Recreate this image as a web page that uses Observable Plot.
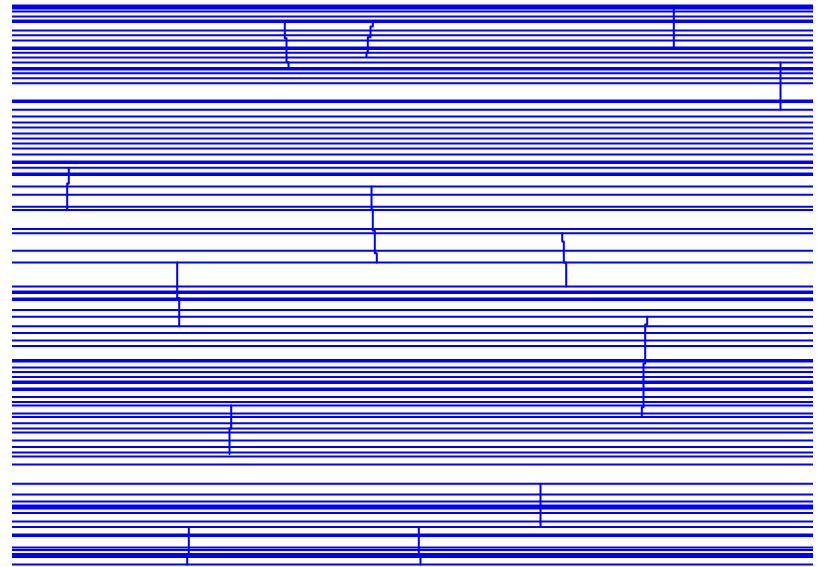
<!DOCTYPE html>
<html>
<head>
<meta charset="utf-8">
<script src="https://cdn.jsdelivr.net/npm/d3@7"></script>
<script src="https://cdn.jsdelivr.net/npm/@observablehq/plot@0.6"></script>
<style>
  html, body { margin: 0; padding: 0; background: #fff; }
</style>
</head>
<body>
<div id="chart"></div>
<script>
// Horizontal levels (depth units, 0 = top)
const levels = [
  5, 6.5, 8, 11, 16, 20, 21.5, 30, 34.7, 40, 47, 48.5, 52.3, 57, 62, 67.5, 69, 72.7, 77.7, 82.7,
  100, 101.5, 109.3, 116, 122, 127, 133, 138, 143, 148, 154, 161, 162.5, 167.3, 173, 174.5,
  186, 194.3, 206.3, 209.5, 228.5, 232.7, 250.3, 262,
  286, 291, 292.5, 298, 299.5, 309.5, 316.3, 325.7, 332.5, 340, 345.5,
  359.5, 361, 367, 371.5, 376.5, 381, 382.5, 388, 389.5, 396.5, 401.5, 405, 413, 416.5,
  422.7, 428, 432, 440, 446.5, 452, 456, 464,
  483.3, 494, 501, 505, 506.5, 508, 512.5, 521, 526.5, 534, 535.5, 547, 549.5, 553.5,
  555, 556.5, 564
];

// Vertical connector series: id, position, depth
const segId = [
  1,1,1,1,
  2,2,2,2,2,
  3,3,
  4,4,
  5,5,5,
  6,6,6,6,6,
  7,7,7,7,
  8,8,8,
  9,9,9,9,9,
  10,10,10,
  11,11,
  12,12,12,
  13,13,13
];
const segPos = [
  272.3, 274, 276, 276,
  360.3, 358, 355.3, 354, 354,
  661.3, 661.3,
  768, 768,
  56.3, 54.7, 54.7,
  359, 360.3, 362.3, 364.3, 364.3,
  549.7, 551.3, 553.7, 553.7,
  164.7, 166.7, 166.7,
  634.7, 632.7, 631, 629.3, 629.3,
  218.7, 217, 217,
  528, 528,
  406.3, 408, 408,
  176.3, 174.7, 174.7
];
const segDepth = [
  21.5, 37.7, 61.7, 67.5,
  21.5, 26, 36.7, 52, 56,
  8, 47,
  62, 109.3,
  167.3, 183, 209.5,
  186, 209, 230, 252.7, 262,
  232.7, 241, 262, 286,
  262, 297.5, 325.7,
  316.3, 324, 363, 406.7, 416.5,
  405, 428, 453.5,
  483.3, 526.5,
  526.5, 553.5, 564,
  526.5, 553.5, 564
];

const segments = segId.map((id, i) => ({id, pos: segPos[i], depth: segDepth[i]}));

const chart = Plot.plot({
  width: 817,
  height: 567,
  marginTop: 0,
  marginBottom: 0,
  marginLeft: 12,
  marginRight: 4,
  x: {domain: [0, 801], axis: null},
  y: {domain: [0, 567], reverse: true, axis: null},
  marks: [
    Plot.ruleY(levels, {stroke: "#0000ff", strokeWidth: 2}),
    Plot.line(segments, {x: "pos", y: "depth", z: "id", curve: "step-before", stroke: "#0000ff", strokeWidth: 2})
  ]
});
document.getElementById("chart").appendChild(chart);
</script>
</body>
</html>
